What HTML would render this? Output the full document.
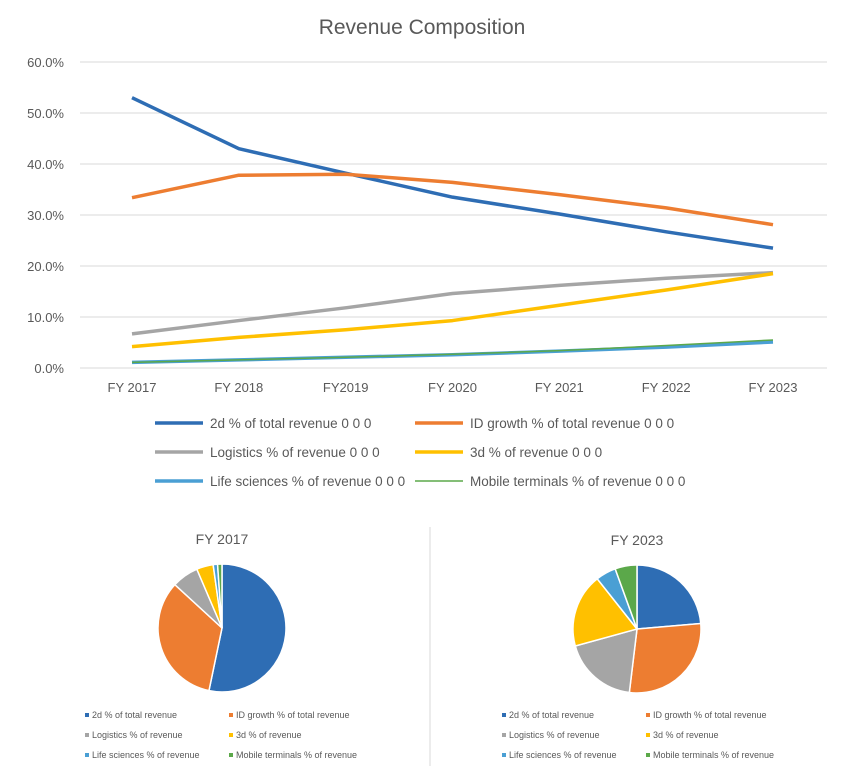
<!DOCTYPE html>
<html><head><meta charset="utf-8"><style>
body{margin:0;background:#fff;font-family:"Liberation Sans",sans-serif;}
svg text{font-family:"Liberation Sans",sans-serif;fill:#595959;}
</style></head><body>
<svg id="c" width="848" height="779" xmlns="http://www.w3.org/2000/svg">
<rect width="848" height="779" fill="#fff"/>
<text x="422" y="34" font-size="21" text-anchor="middle">Revenue Composition</text>
<g id="grid"></g><g id="lines"></g><g id="legend"></g>
<line x1="430" y1="527" x2="430" y2="766" stroke="#d9d9d9"/>
<g id="pies"></g>
</svg>
<script>
const categories=["FY 2017","FY 2018","FY2019","FY 2020","FY 2021","FY 2022","FY 2023"];
const seriesNames=["2d % of total revenue","ID growth % of total revenue","Logistics % of revenue","3d % of revenue","Life sciences % of revenue","Mobile terminals % of revenue"];
const colors=["#2e6db4","#ed7d31","#a5a5a5","#ffc000","#4a9fd4","#5ba84a"];
const s2d=[53,43,38.2,33.5,30.2,26.7,23.5];
const sID=[33.4,37.8,38,36.4,34,31.4,28.1];
const sLog=[6.7,9.3,11.8,14.6,16.2,17.6,18.7];
const s3d=[4.2,6,7.5,9.3,12.3,15.3,18.5];
const sLife=[1.1,1.6,2.1,2.6,3.3,4.1,5.1];
const sMobile=[1.1,1.6,2.1,2.7,3.4,4.4,5.5];
const yTicks=[0,10,20,30,40,50,60];
const pie2017=[53,33.4,6.7,4.2,1.1,1.1];
const pie2023=[23.5,28.1,18.7,18.5,5.1,5.5];

const NS="http://www.w3.org/2000/svg";
function mk(t,a,p){const e=document.createElementNS(NS,t);for(const k in a)e.setAttribute(k,a[k]);p.appendChild(e);return e;}
const x=i=>132+i*(773-132)/(categories.length-1);
const y=v=>368-v*(368-62)/60;
const grid=document.getElementById('grid');
yTicks.forEach(t=>{
  const l=mk('line',{x1:80,x2:827,y1:y(t),y2:y(t),stroke:'#d9d9d9'},grid);
  
  
  const tx=mk('text',{x:64,y:y(t)+5,'font-size':13,'text-anchor':'end'},grid);
  tx.textContent=t.toFixed(1)+'%';
  
  
});
categories.forEach((c,i)=>{
  const tx=mk('text',{x:x(i),y:392,'font-size':13,'text-anchor':'middle'},grid);
  tx.textContent=c;
  
  
});
const all=[s2d,sID,sLog,s3d,sLife,sMobile];
const lines=document.getElementById('lines');
const widths=[3.5,3.5,3.5,3.5,3.5,1.5];
all.forEach((s,k)=>{
  const p=mk('polyline',{points:s.map((v,i)=>x(i)+','+y(v)).join(' '),fill:'none',stroke:colors[k],'stroke-width':widths[k],'stroke-linejoin':'round'},lines);
  
  
});
const lg=document.getElementById('legend');
seriesNames.forEach((n,k)=>{
  const col=k%2,row=Math.floor(k/2);
  const lx=col?415:155,ly=423+row*29;
  const l=mk('line',{x1:lx,x2:lx+48,y1:ly,y2:ly,stroke:colors[k],'stroke-width':widths[k]},lg);
  
  
  const t=mk('text',{x:lx+55,y:ly+5,'font-size':13.5},lg);
  t.textContent=n+' 0 0 0';
  
  
});
const pies=document.getElementById('pies');
function pie(vals,cx,cy,r,title,lx){
  const tt=mk('text',{x:cx,y:cy-84,'font-size':14,'text-anchor':'middle'},pies);
  tt.textContent=title;
  
  
  const tot=vals.reduce((a,b)=>a+b,0);let a=-Math.PI/2;
  vals.forEach((v,k)=>{
    const b=a+v/tot*2*Math.PI;
    const large=(b-a)>Math.PI?1:0;
    const d=`M${cx},${cy} L${cx+r*Math.cos(a)},${cy+r*Math.sin(a)} A${r},${r} 0 ${large} 1 ${cx+r*Math.cos(b)},${cy+r*Math.sin(b)} Z`;
    const p=mk('path',{d:d,fill:colors[k],stroke:'#fff','stroke-width':1.5},pies);
    
    
    a=b;
  });
  seriesNames.forEach((n,k)=>{
    const col=k%2,row=Math.floor(k/2);
    const mx=lx+(col?144:0),my=716+row*20;
    const m=mk('rect',{x:mx,y:my-3,width:4,height:4,fill:colors[k]},pies);
    
    
    const t=mk('text',{x:mx+7,y:my+2,'font-size':9},pies);
    t.textContent=n;
    
    
  });
}
pie(pie2017,222,628,64,'FY 2017',85);
pie(pie2023,637,629,64,'FY 2023',502);
</script>
</body></html>
